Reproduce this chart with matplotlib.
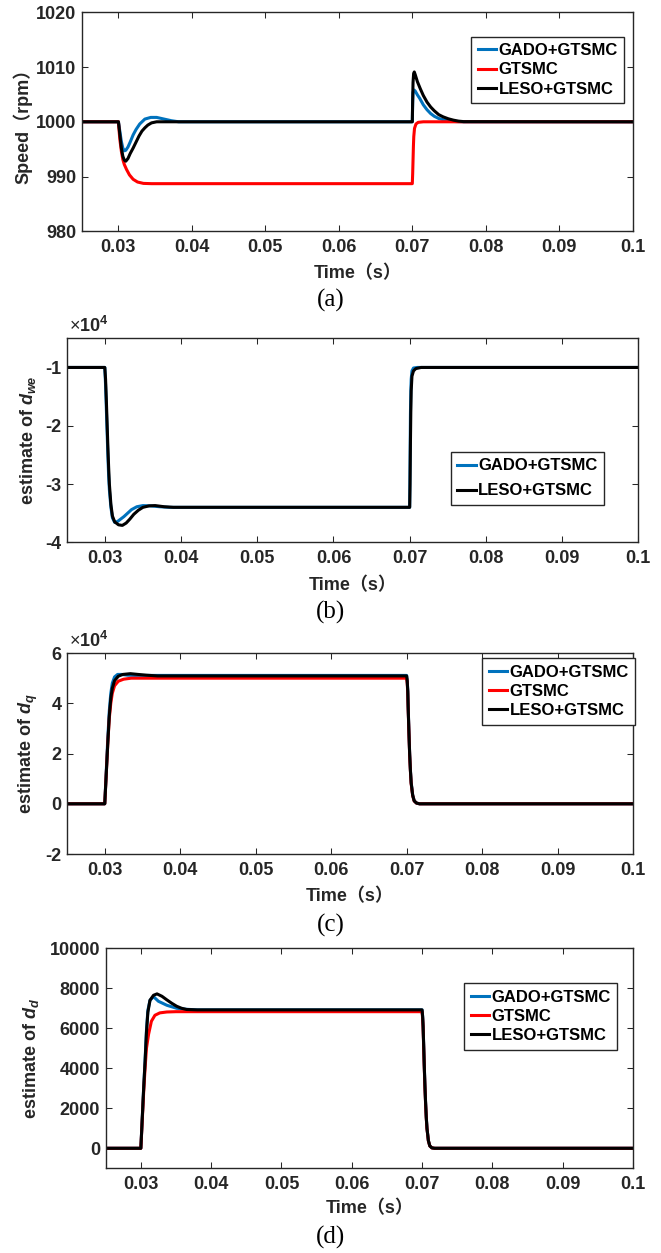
import numpy as np
import matplotlib as mpl
import matplotlib.pyplot as plt
from matplotlib.ticker import FuncFormatter

# bold sans text, CJK font only for the full-width brackets
mpl.rcParams['font.family'] = ['Liberation Sans', 'Noto Sans CJK SC']
mpl.rcParams['font.weight'] = 'bold'
mpl.rcParams['axes.labelweight'] = 'bold'
mpl.rcParams['axes.unicode_minus'] = False
mpl.rcParams['mathtext.fontset'] = 'custom'
mpl.rcParams['mathtext.rm'] = 'Liberation Sans:bold'
mpl.rcParams['mathtext.it'] = 'Liberation Sans:italic:bold'
mpl.rcParams['mathtext.bf'] = 'Liberation Sans:bold'

labels = ['GADO+GTSMC', 'GTSMC', 'LESO+GTSMC']
colors = ['#0072BD', '#FF0000', '#000000']
xticks = [0.03, 0.04, 0.05, 0.06, 0.07, 0.08, 0.09, 0.1]

# (a) speed, rpm
t_spd_gado = [0.025, 0.0300, 0.0302, 0.0304, 0.0306, 0.0308, 0.0310, 0.0313, 0.0316, 0.0320, 0.0324,
              0.0329, 0.0336, 0.0344, 0.0352, 0.0362, 0.0372, 0.0382, 0.0700, 0.07005, 0.0701, 0.07025,
              0.0704, 0.0707, 0.0710, 0.0715, 0.0720, 0.0725, 0.0730, 0.0736, 0.0743, 0.0750, 0.0758, 0.0770, 0.1]
spd_gado = [1000, 1000, 998.2, 996.4, 995.2, 994.7, 994.8, 995.4, 996.3, 997.6, 998.6,
            999.6, 1000.5, 1000.8, 1000.8, 1000.5, 1000.2, 1000, 1000, 1003.5, 1005.4, 1005.8,
            1005.6, 1004.9, 1004.3, 1003.1, 1002.2, 1001.5, 1001.0, 1000.6, 1000.35, 1000.15, 1000.05, 1000, 1000]
t_spd_gtsmc = [0.025, 0.0300, 0.0301, 0.0302, 0.0304, 0.0306, 0.0308, 0.0311, 0.0315, 0.0320, 0.0326,
               0.0334, 0.0345, 0.0700, 0.07005, 0.0701, 0.07015, 0.0702, 0.0703, 0.0705, 0.0708, 0.0715, 0.1]
spd_gtsmc = [1000, 1000, 998.2, 996.7, 994.6, 993.1, 992.2, 991.3, 990.3, 989.5, 989.0,
             988.75, 988.7, 988.7, 990.5, 993.0, 995.5, 997.3, 998.8, 999.6, 999.9, 1000, 1000]
t_spd_leso = [0.025, 0.0300, 0.0302, 0.0304, 0.0306, 0.0308, 0.0310, 0.0313, 0.0316, 0.0320, 0.0324,
              0.0328, 0.0332, 0.0336, 0.0340, 0.0345, 0.0352, 0.0700, 0.07005, 0.0701, 0.07018, 0.07027,
              0.0704, 0.0707, 0.0711, 0.0715, 0.0720, 0.0725, 0.0730, 0.0736, 0.0742, 0.0749, 0.0756,
              0.0763, 0.0770, 0.1]
spd_leso = [1000, 1000, 997.6, 995.2, 993.7, 993.0, 992.8, 993.3, 994.2, 995.2, 996.3,
            997.4, 998.3, 998.9, 999.4, 999.8, 1000, 1000, 1004.0, 1007.2, 1008.8, 1009.1,
            1008.6, 1007.3, 1006.0, 1004.8, 1003.6, 1002.7, 1002.0, 1001.3, 1000.9, 1000.55, 1000.3,
            1000.12, 1000.03, 1000]

# (b) estimate of d_we
t_dwe_gado = [0.025, 0.0300, 0.0301, 0.0302, 0.0303, 0.0304, 0.0305, 0.0306, 0.0308, 0.0310, 0.0313,
              0.0317, 0.0321, 0.0325, 0.0330, 0.0335, 0.0342, 0.0350, 0.0360, 0.0372, 0.0385, 0.0700,
              0.07005, 0.0701, 0.07015, 0.0702, 0.0703, 0.0705, 0.0710, 0.1]
dwe_gado = [-10000, -10000, -13000, -17000, -21000, -25000, -28500, -31000, -34000, -35800, -36600,
            -36400, -36000, -35600, -35000, -34400, -33900, -33700, -33750, -33900, -34000, -34000,
            -26000, -18000, -14000, -12000, -10600, -10100, -10000, -10000]
t_dwe_leso = [0.025, 0.0300, 0.0301, 0.0302, 0.0303, 0.0304, 0.0305, 0.0306, 0.0308, 0.0310, 0.0313,
              0.0318, 0.0323, 0.0328, 0.0333, 0.0338, 0.0344, 0.0350, 0.0358, 0.0366, 0.0378, 0.0390,
              0.0700, 0.07005, 0.0701, 0.07015, 0.0702, 0.0703, 0.0705, 0.0708, 0.0715, 0.1]
dwe_leso = [-10000, -10000, -12000, -15500, -19500, -23500, -27000, -30000, -33500, -35500, -36500,
            -37000, -37100, -36700, -36000, -35200, -34500, -34000, -33750, -33700, -33900, -34000,
            -34000, -30000, -23000, -17500, -14000, -11500, -10600, -10200, -10000, -10000]

# (c) estimate of d_q
t_dq_gado = [0.025, 0.0300, 0.0302, 0.0304, 0.0306, 0.0308, 0.0310, 0.0313, 0.0317, 0.0322, 0.0330,
             0.0340, 0.0700, 0.07008, 0.07015, 0.0702, 0.0703, 0.0704, 0.0705, 0.0706, 0.0708, 0.0710,
             0.0713, 0.0717, 0.1]
dq_gado = [0, 0, 13000, 26000, 37000, 44000, 48000, 50500, 51500, 51500, 51200,
           51100, 51100, 49000, 45000, 39000, 29000, 20000, 13500, 8500, 3500, 1200,
           300, 0, 0]
t_dq_gtsmc = [0.025, 0.0300, 0.0302, 0.0304, 0.0306, 0.0308, 0.0310, 0.0313, 0.0318, 0.0325, 0.0335,
              0.0700, 0.07008, 0.07015, 0.0702, 0.0703, 0.0704, 0.0705, 0.0706, 0.0708, 0.0710, 0.0713,
              0.0717, 0.1]
dq_gtsmc = [0, 0, 12000, 24000, 34000, 40000, 44000, 47000, 48800, 49600, 50000,
            50000, 48000, 44000, 38000, 28500, 19500, 13000, 8000, 3300, 1100, 300,
            0, 0]
t_dq_leso = [0.025, 0.0300, 0.0302, 0.0304, 0.0306, 0.0308, 0.0310, 0.0313, 0.0318, 0.0324, 0.0334,
             0.0344, 0.0355, 0.0370, 0.0700, 0.07008, 0.07015, 0.0702, 0.0703, 0.0704, 0.0705, 0.0706,
             0.0708, 0.0710, 0.0713, 0.0717, 0.1]
dq_leso = [0, 0, 12000, 24000, 35000, 42000, 46000, 49000, 50800, 51500, 51800,
           51500, 51200, 50900, 50900, 48800, 44800, 38800, 28800, 19800, 13400, 8400,
           3400, 1200, 300, 0, 0]

# (d) estimate of d_d
t_dd_gado = [0.025, 0.0300, 0.0302, 0.0304, 0.0306, 0.0308, 0.0310, 0.0313, 0.0318, 0.0325, 0.0337,
             0.0351, 0.0365, 0.0380, 0.0700, 0.07008, 0.07015, 0.0702, 0.0703, 0.0704, 0.0705, 0.0706,
             0.0707, 0.0709, 0.0711, 0.0714, 0.0718, 0.1]
dd_gado = [0, 0, 1500, 3000, 4400, 5900, 6900, 7400, 7580, 7350, 7150,
           7000, 6950, 6920, 6920, 6600, 6100, 5500, 4300, 3200, 2300, 1550,
           1000, 380, 120, 20, 0, 0]
t_dd_gtsmc = [0.025, 0.0300, 0.0302, 0.0304, 0.0306, 0.0308, 0.0311, 0.0315, 0.0320, 0.0327, 0.0337,
              0.0350, 0.0700, 0.07008, 0.07015, 0.0702, 0.0703, 0.0704, 0.0705, 0.0706, 0.0707, 0.0709,
              0.0711, 0.0714, 0.0718, 0.1]
dd_gtsmc = [0, 0, 1400, 2800, 4000, 5000, 5700, 6350, 6650, 6770, 6815,
            6830, 6830, 6500, 6000, 5400, 4200, 3100, 2250, 1500, 980, 370,
            120, 20, 0, 0]
t_dd_leso = [0.025, 0.0300, 0.0302, 0.0304, 0.0306, 0.0308, 0.0310, 0.0313, 0.0318, 0.0323, 0.0330,
             0.0337, 0.0344, 0.0351, 0.0358, 0.0365, 0.0380, 0.0700, 0.07008, 0.07015, 0.0702, 0.0703,
             0.0704, 0.0705, 0.0706, 0.0707, 0.0709, 0.0711, 0.0714, 0.0718, 0.1]
dd_leso = [0, 0, 1500, 3000, 4300, 5800, 6800, 7400, 7650, 7720, 7600,
           7420, 7250, 7100, 7000, 6940, 6920, 6920, 6600, 6100, 5500, 4300,
           3200, 2300, 1550, 1000, 380, 120, 20, 0, 0]

fig = plt.figure(figsize=(6.61, 12.53), dpi=100)


def style_axes(ax, ylim, yticks, ylabel, ylab_x, xlab_y, sci=False):
    ax.set_xlim(0.025, 0.1)
    ax.set_xticks(xticks)
    ax.xaxis.set_major_formatter(FuncFormatter(lambda v, p: '%g' % v))
    ax.set_ylim(*ylim)
    ax.set_yticks(yticks)
    if sci:
        ax.yaxis.set_major_formatter(FuncFormatter(lambda v, p: '%g' % (v / 1e4)))
        ax.text(0.004, 1.01, r'×$\mathbf{10^{4}}$', transform=ax.transAxes, ha='left', va='bottom',
                fontsize=13, fontweight='normal', color='#262626')
    ax.tick_params(direction='in', top=True, right=True, length=4.3, width=0.75,
                   labelsize=13, colors='#262626')
    ax.tick_params(axis='x', pad=5.5)
    ax.tick_params(axis='y', pad=4)
    for s in ax.spines.values():
        s.set_linewidth(1.0)
        s.set_color('#262626')
    ax.set_xlabel('Time（s）', fontsize=13, fontweight='bold', va='center', color='#262626')
    ax.xaxis.set_label_coords(0.5, xlab_y)
    ax.set_ylabel(ylabel, fontsize=13, fontweight='bold', va='center', color='#262626')
    ax.yaxis.set_label_coords(ylab_x, 0.5)


def add_legend(ax, anchor, spacing):
    leg = ax.legend(loc='upper left', bbox_to_anchor=anchor, borderaxespad=0, fancybox=False,
                    edgecolor='#262626', framealpha=1, handlelength=1.1, handletextpad=0.15,
                    borderpad=0.4, labelspacing=spacing, prop={'weight': 'bold', 'size': 12})
    leg.get_frame().set_linewidth(1.0)


lw = 2.2

# (a)
ax1 = fig.add_axes([0.1236, 0.8154, 0.8336, 0.1748])
ax1.plot(t_spd_gado, spd_gado, color=colors[0], lw=lw, label=labels[0])
ax1.plot(t_spd_gtsmc, spd_gtsmc, color=colors[1], lw=lw, label=labels[1])
ax1.plot(t_spd_leso, spd_leso, color=colors[2], lw=lw, label=labels[2])
style_axes(ax1, (980, 1020), [980, 990, 1000, 1010, 1020], 'Speed（rpm）', -0.107, -0.195)
add_legend(ax1, (0.7065, 0.889), 0.25)

# (b)
ax2 = fig.add_axes([0.1009, 0.5672, 0.8648, 0.1628])
ax2.plot(t_dwe_gado, dwe_gado, color=colors[0], lw=lw, label=labels[0])
ax2.plot(t_dwe_leso, dwe_leso, color=colors[2], lw=lw, label=labels[2])
style_axes(ax2, (-40000, -5000), [-40000, -30000, -20000, -10000], r'estimate of $d_{we}$',
           -0.067, -0.213, sci=True)
add_legend(ax2, (0.6716, 0.444), 0.6)

# (c)
ax3 = fig.add_axes([0.1014, 0.3184, 0.8563, 0.1604])
ax3.plot(t_dq_gado, dq_gado, color=colors[0], lw=lw, label=labels[0])
ax3.plot(t_dq_gtsmc, dq_gtsmc, color=colors[1], lw=lw, label=labels[1])
ax3.plot(t_dq_leso, dq_leso, color=colors[2], lw=lw, label=labels[2])
style_axes(ax3, (-20000, 60000), [-20000, 0, 20000, 40000, 60000], r'estimate of $d_{q}$',
           -0.069, -0.212, sci=True)
add_legend(ax3, (0.733, 0.975), 0.25)

# (d)
ax4 = fig.add_axes([0.1599, 0.0676, 0.7977, 0.1756])
ax4.plot(t_dd_gado, dd_gado, color=colors[0], lw=lw, label=labels[0])
ax4.plot(t_dd_gtsmc, dd_gtsmc, color=colors[1], lw=lw, label=labels[1])
ax4.plot(t_dd_leso, dd_leso, color=colors[2], lw=lw, label=labels[2])
style_axes(ax4, (-1000, 10000), [0, 2000, 4000, 6000, 8000, 10000], r'estimate of $d_{d}$',
           -0.141, -0.185)
add_legend(ax4, (0.6795, 0.842), 0.25)

# sub-figure captions
for y, cap in zip([0.7606, 0.511, 0.2618, 0.0122], ['(a)', '(b)', '(c)', '(d)']):
    fig.text(0.5, y, cap, family='Liberation Serif', fontsize=18, fontweight='normal',
             ha='center', va='center')

fig.savefig('out.png', dpi=100)
